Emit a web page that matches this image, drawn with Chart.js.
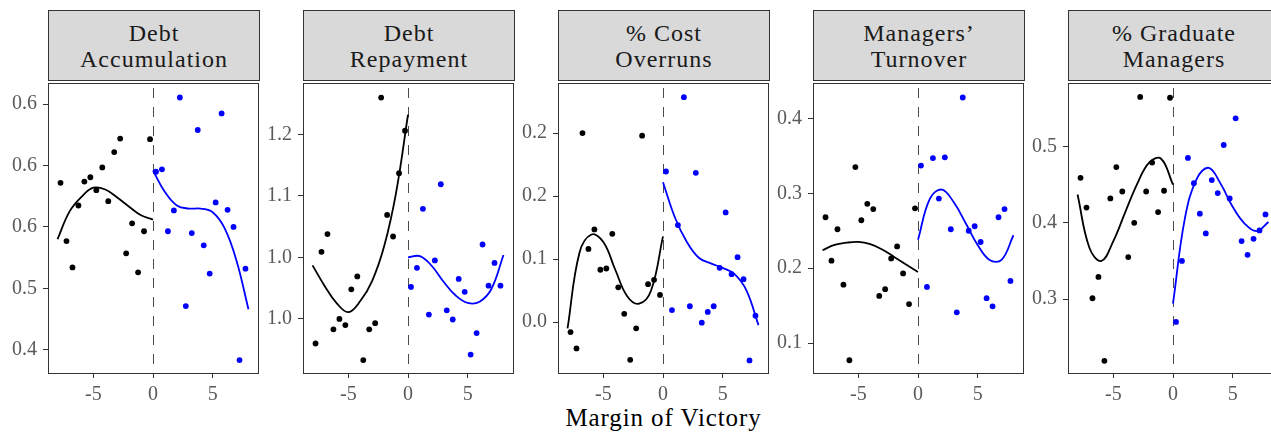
<!DOCTYPE html>
<html>
<head>
<meta charset="utf-8">
<title>Margin of Victory</title>
<script src="https://cdn.jsdelivr.net/npm/chart.js@4.4.1/dist/chart.umd.min.js"></script>
<style>
    html, body { margin: 0; padding: 0; background: #fff; overflow: hidden; }
    #figure { position: relative; width: 1271px; height: 432px; overflow: hidden; font-family: 'Liberation Serif', serif; }
    .strip {
        position: absolute; top: 10px; height: 71px; width: 212px; box-sizing: border-box;
        border: 1px solid #333; background: #d9d9d9; color: #1a1a1a;
        font-size: 24px; line-height: 26px; letter-spacing: 1px; text-align: center;
        display: flex; flex-direction: column; justify-content: center;
    }
    .panel { position: absolute; top: 80px; }
    #xlabel { position: absolute; top: 404px; left: 0; width: 1327px; text-align: center; font-size: 25px; letter-spacing: 0.9px; color: #000; }
</style>
</head>
<body>
<div id="figure">
    <div id="xlabel">Margin of Victory</div>
</div>
<script>
// bin midpoints on each side of the cutoff
const binsLeft = [-7.75, -7.25, -6.75, -6.25, -5.75, -5.25, -4.75, -4.25, -3.75, -3.25, -2.75, -2.25, -1.75, -1.25, -0.75, -0.25];
const binsRight = [0.25, 0.75, 1.25, 1.75, 2.25, 2.75, 3.25, 3.75, 4.25, 4.75, 5.25, 5.75, 6.25, 6.75, 7.25, 7.75];
// x positions where the fitted curves are sampled
const fitLeftX = [-8, -7, -6, -5, -4, -3, -2, -1, 0];
const fitRightX = [0, 1, 2, 3, 4, 5, 6, 7, 8];
const xTicks = [-5, 0, 5];
const cutoff = 0;

const panelTitles = [
    ['Debt', 'Accumulation'],
    ['Debt', 'Repayment'],
    ['% Cost', 'Overruns'],
    ['Managers\u2019', 'Turnover'],
    ['% Graduate', 'Managers']
];

// Debt accumulation
const debtAccLeft = [0.672, 0.577, 0.534, 0.635, 0.674, 0.681, 0.660, 0.697, 0.642, 0.722, 0.744, 0.557, 0.606, 0.526, 0.593, 0.743];
const debtAccRight = [0.690, 0.694, 0.593, 0.627, 0.811, 0.471, 0.590, 0.758, 0.570, 0.524, 0.640, 0.785, 0.628, 0.600, 0.383, 0.532];
const debtAccFitLeft = [0.580, 0.625, 0.649, 0.664, 0.661, 0.648, 0.633, 0.619, 0.612];
const debtAccFitRight = [0.692, 0.657, 0.635, 0.630, 0.630, 0.624, 0.598, 0.545, 0.466];
const debtAccTicks = [0.4, 0.5, 0.6, 0.7, 0.8];
const debtAccTickLabels = ['0.4', '0.5', '0.6', '0.6', '0.6'];

// Debt repayment
const debtRepLeft = [0.860, 1.009, 1.038, 0.883, 0.900, 0.890, 0.948, 0.969, 0.833, 0.883, 0.893, 1.260, 1.069, 1.034, 1.137, 1.206];
const debtRepRight = [0.952, 0.983, 1.079, 0.907, 0.995, 1.119, 0.914, 0.899, 0.965, 0.944, 0.842, 0.877, 1.021, 0.954, 0.991, 0.954];
const debtRepFitLeft = [0.987, 0.954, 0.926, 0.911, 0.929, 0.962, 1.018, 1.105, 1.232];
const debtRepFitRight = [1.000, 1.002, 0.986, 0.960, 0.938, 0.926, 0.928, 0.949, 1.004];
const debtRepTicks = [0.9, 1.0, 1.1, 1.2];
const debtRepTickLabels = ['1.0', '1.0', '1.1', '1.2'];

// Cost overruns
const overrunLeft = [-0.016, -0.042, 0.300, 0.116, 0.147, 0.083, 0.085, 0.140, 0.055, 0.013, -0.060, -0.010, 0.296, 0.060, 0.067, 0.043];
const overrunRight = [0.239, 0.019, 0.154, 0.357, 0.025, 0.237, -0.001, 0.016, 0.025, 0.086, 0.174, 0.076, 0.103, 0.068, -0.061, 0.010];
const overrunFitLeft = [-0.010, 0.110, 0.139, 0.127, 0.083, 0.041, 0.029, 0.050, 0.136];
const overrunFitRight = [0.222, 0.166, 0.127, 0.102, 0.093, 0.086, 0.076, 0.050, -0.005];
const overrunTicks = [0.0, 0.1, 0.2, 0.3];
const overrunTickLabels = ['0.0', '0.1', '0.2', '0.2'];

// Managers' turnover
const turnoverLeft = [0.268, 0.210, 0.252, 0.178, 0.077, 0.335, 0.264, 0.286, 0.279, 0.163, 0.172, 0.213, 0.229, 0.193, 0.152, 0.280];
const turnoverRight = [0.337, 0.175, 0.347, 0.293, 0.348, 0.252, 0.141, 0.428, 0.250, 0.256, 0.235, 0.160, 0.149, 0.268, 0.279, 0.183];
const turnoverFitLeft = [0.224, 0.231, 0.234, 0.235, 0.232, 0.225, 0.215, 0.205, 0.195];
const turnoverFitRight = [0.238, 0.293, 0.305, 0.288, 0.260, 0.231, 0.211, 0.211, 0.244];
const turnoverTicks = [0.1, 0.2, 0.3, 0.4];
const turnoverTickLabels = ['0.1', '0.2', '0.3', '0.4'];

// Graduate managers
const graduateLeft = [0.459, 0.420, 0.301, 0.329, 0.219, 0.432, 0.473, 0.441, 0.355, 0.400, 0.565, 0.441, 0.479, 0.414, 0.442, 0.564];
const graduateRight = [0.270, 0.350, 0.485, 0.452, 0.412, 0.386, 0.456, 0.439, 0.502, 0.432, 0.537, 0.376, 0.358, 0.379, 0.390, 0.411];
const graduateFitLeft = [0.437, 0.367, 0.350, 0.376, 0.414, 0.451, 0.479, 0.484, 0.450];
const graduateFitRight = [0.294, 0.406, 0.458, 0.472, 0.451, 0.421, 0.399, 0.389, 0.401];
const graduateTicks = [0.3, 0.4, 0.5];
const graduateTickLabels = ['0.3', '0.4', '0.5'];

const panels = [
    { left: 48,   yMin: 0.362, yMax: 0.833, pts: [debtAccLeft, debtAccRight], fit: [debtAccFitLeft, debtAccFitRight], ticks: debtAccTicks, labels: debtAccTickLabels },
    { left: 303,  yMin: 0.812, yMax: 1.282, pts: [debtRepLeft, debtRepRight], fit: [debtRepFitLeft, debtRepFitRight], ticks: debtRepTicks, labels: debtRepTickLabels },
    { left: 558,  yMin: -0.081, yMax: 0.378, pts: [overrunLeft, overrunRight], fit: [overrunFitLeft, overrunFitRight], ticks: overrunTicks, labels: overrunTickLabels },
    { left: 813,  yMin: 0.060, yMax: 0.446, pts: [turnoverLeft, turnoverRight], fit: [turnoverFitLeft, turnoverFitRight], ticks: turnoverTicks, labels: turnoverTickLabels },
    { left: 1068, yMin: 0.203, yMax: 0.582, pts: [graduateLeft, graduateRight], fit: [graduateFitLeft, graduateFitRight], ticks: graduateTicks, labels: graduateTickLabels }
];

const BLUE = '#0000ff';
const tickFont = { family: "'Liberation Serif', serif", size: 20 };

function toPoints(xs, ys) {
    return xs.map((x, i) => ({ x: x, y: ys[i] }));
}

// dashed cutoff line plus the panel border
const panelFrame = {
    id: 'panelFrame',
    beforeDatasetsDraw(chart) {
        const { ctx, chartArea: a } = chart;
        const px = Math.round(chart.scales.x.getPixelForValue(cutoff)) + 0.5;
        ctx.save();
        ctx.strokeStyle = '#4a4a4a';
        ctx.lineWidth = 1;
        ctx.setLineDash([10, 9]);
        ctx.lineDashOffset = 15;
        ctx.beginPath();
        ctx.moveTo(px, a.top);
        ctx.lineTo(px, a.bottom);
        ctx.stroke();
        ctx.restore();
    },
    afterDraw(chart) {
        const { ctx, chartArea: a } = chart;
        ctx.save();
        ctx.strokeStyle = '#333';
        ctx.lineWidth = 1;
        ctx.strokeRect(a.left + 0.5, a.top - 0.5, a.right - a.left, a.bottom - a.top + 1);
        ctx.restore();
    }
};

function makePanel(cfg, i) {
    const fig = document.getElementById('figure');

    const strip = document.createElement('div');
    strip.className = 'strip';
    strip.style.left = cfg.left + 'px';
    strip.innerHTML = panelTitles[i].map(t => '<div>' + t + '</div>').join('');
    fig.appendChild(strip);

    const canvas = document.createElement('canvas');
    canvas.className = 'panel';
    canvas.width = 262;
    canvas.height = 352;
    canvas.style.left = (cfg.left - 48) + 'px';
    fig.appendChild(canvas);

    const lineStyle = { showLine: true, pointRadius: 0, borderWidth: 1.8, tension: 0.4, fill: false };
    const dotStyle = { pointRadius: 2.9, pointBorderWidth: 0, showLine: false };

    new Chart(canvas, {
        type: 'scatter',
        data: {
            datasets: [
                Object.assign({ data: toPoints(fitLeftX, cfg.fit[0]), borderColor: '#000' }, lineStyle),
                Object.assign({ data: toPoints(fitRightX, cfg.fit[1]), borderColor: BLUE }, lineStyle),
                Object.assign({ data: toPoints(binsLeft, cfg.pts[0]), backgroundColor: '#000', borderColor: '#000' }, dotStyle),
                Object.assign({ data: toPoints(binsRight, cfg.pts[1]), backgroundColor: BLUE, borderColor: BLUE }, dotStyle)
            ]
        },
        options: {
            responsive: false,
            animation: false,
            devicePixelRatio: 1,
            layout: { padding: { top: 1, right: 3, left: 0, bottom: 0 } },
            plugins: { legend: { display: false }, tooltip: { enabled: false } },
            scales: {
                x: {
                    type: 'linear',
                    min: -8.8,
                    max: 8.8,
                    afterBuildTicks: s => { s.ticks = xTicks.map(v => ({ value: v })); },
                    afterFit: s => { s.height = 59; s.paddingLeft = 0; s.paddingRight = 0; },
                    border: { display: false },
                    grid: { drawOnChartArea: false, drawTicks: true, tickLength: 5, color: '#333' },
                    ticks: { font: tickFont, color: '#5a5a5a', padding: 5, maxRotation: 0, callback: v => String(v) }
                },
                y: {
                    type: 'linear',
                    min: cfg.yMin,
                    max: cfg.yMax,
                    afterBuildTicks: s => { s.ticks = cfg.ticks.map(v => ({ value: v })); },
                    afterFit: s => { s.width = 48; s.paddingTop = 0; s.paddingBottom = 0; },
                    border: { display: false },
                    grid: { drawOnChartArea: false, drawTicks: true, tickLength: 5, color: '#333' },
                    ticks: { font: tickFont, color: '#5a5a5a', padding: 6, callback: (v, idx) => cfg.labels[idx] }
                }
            }
        },
        plugins: [panelFrame]
    });
}

panels.forEach(makePanel);
</script>
</body>
</html>
